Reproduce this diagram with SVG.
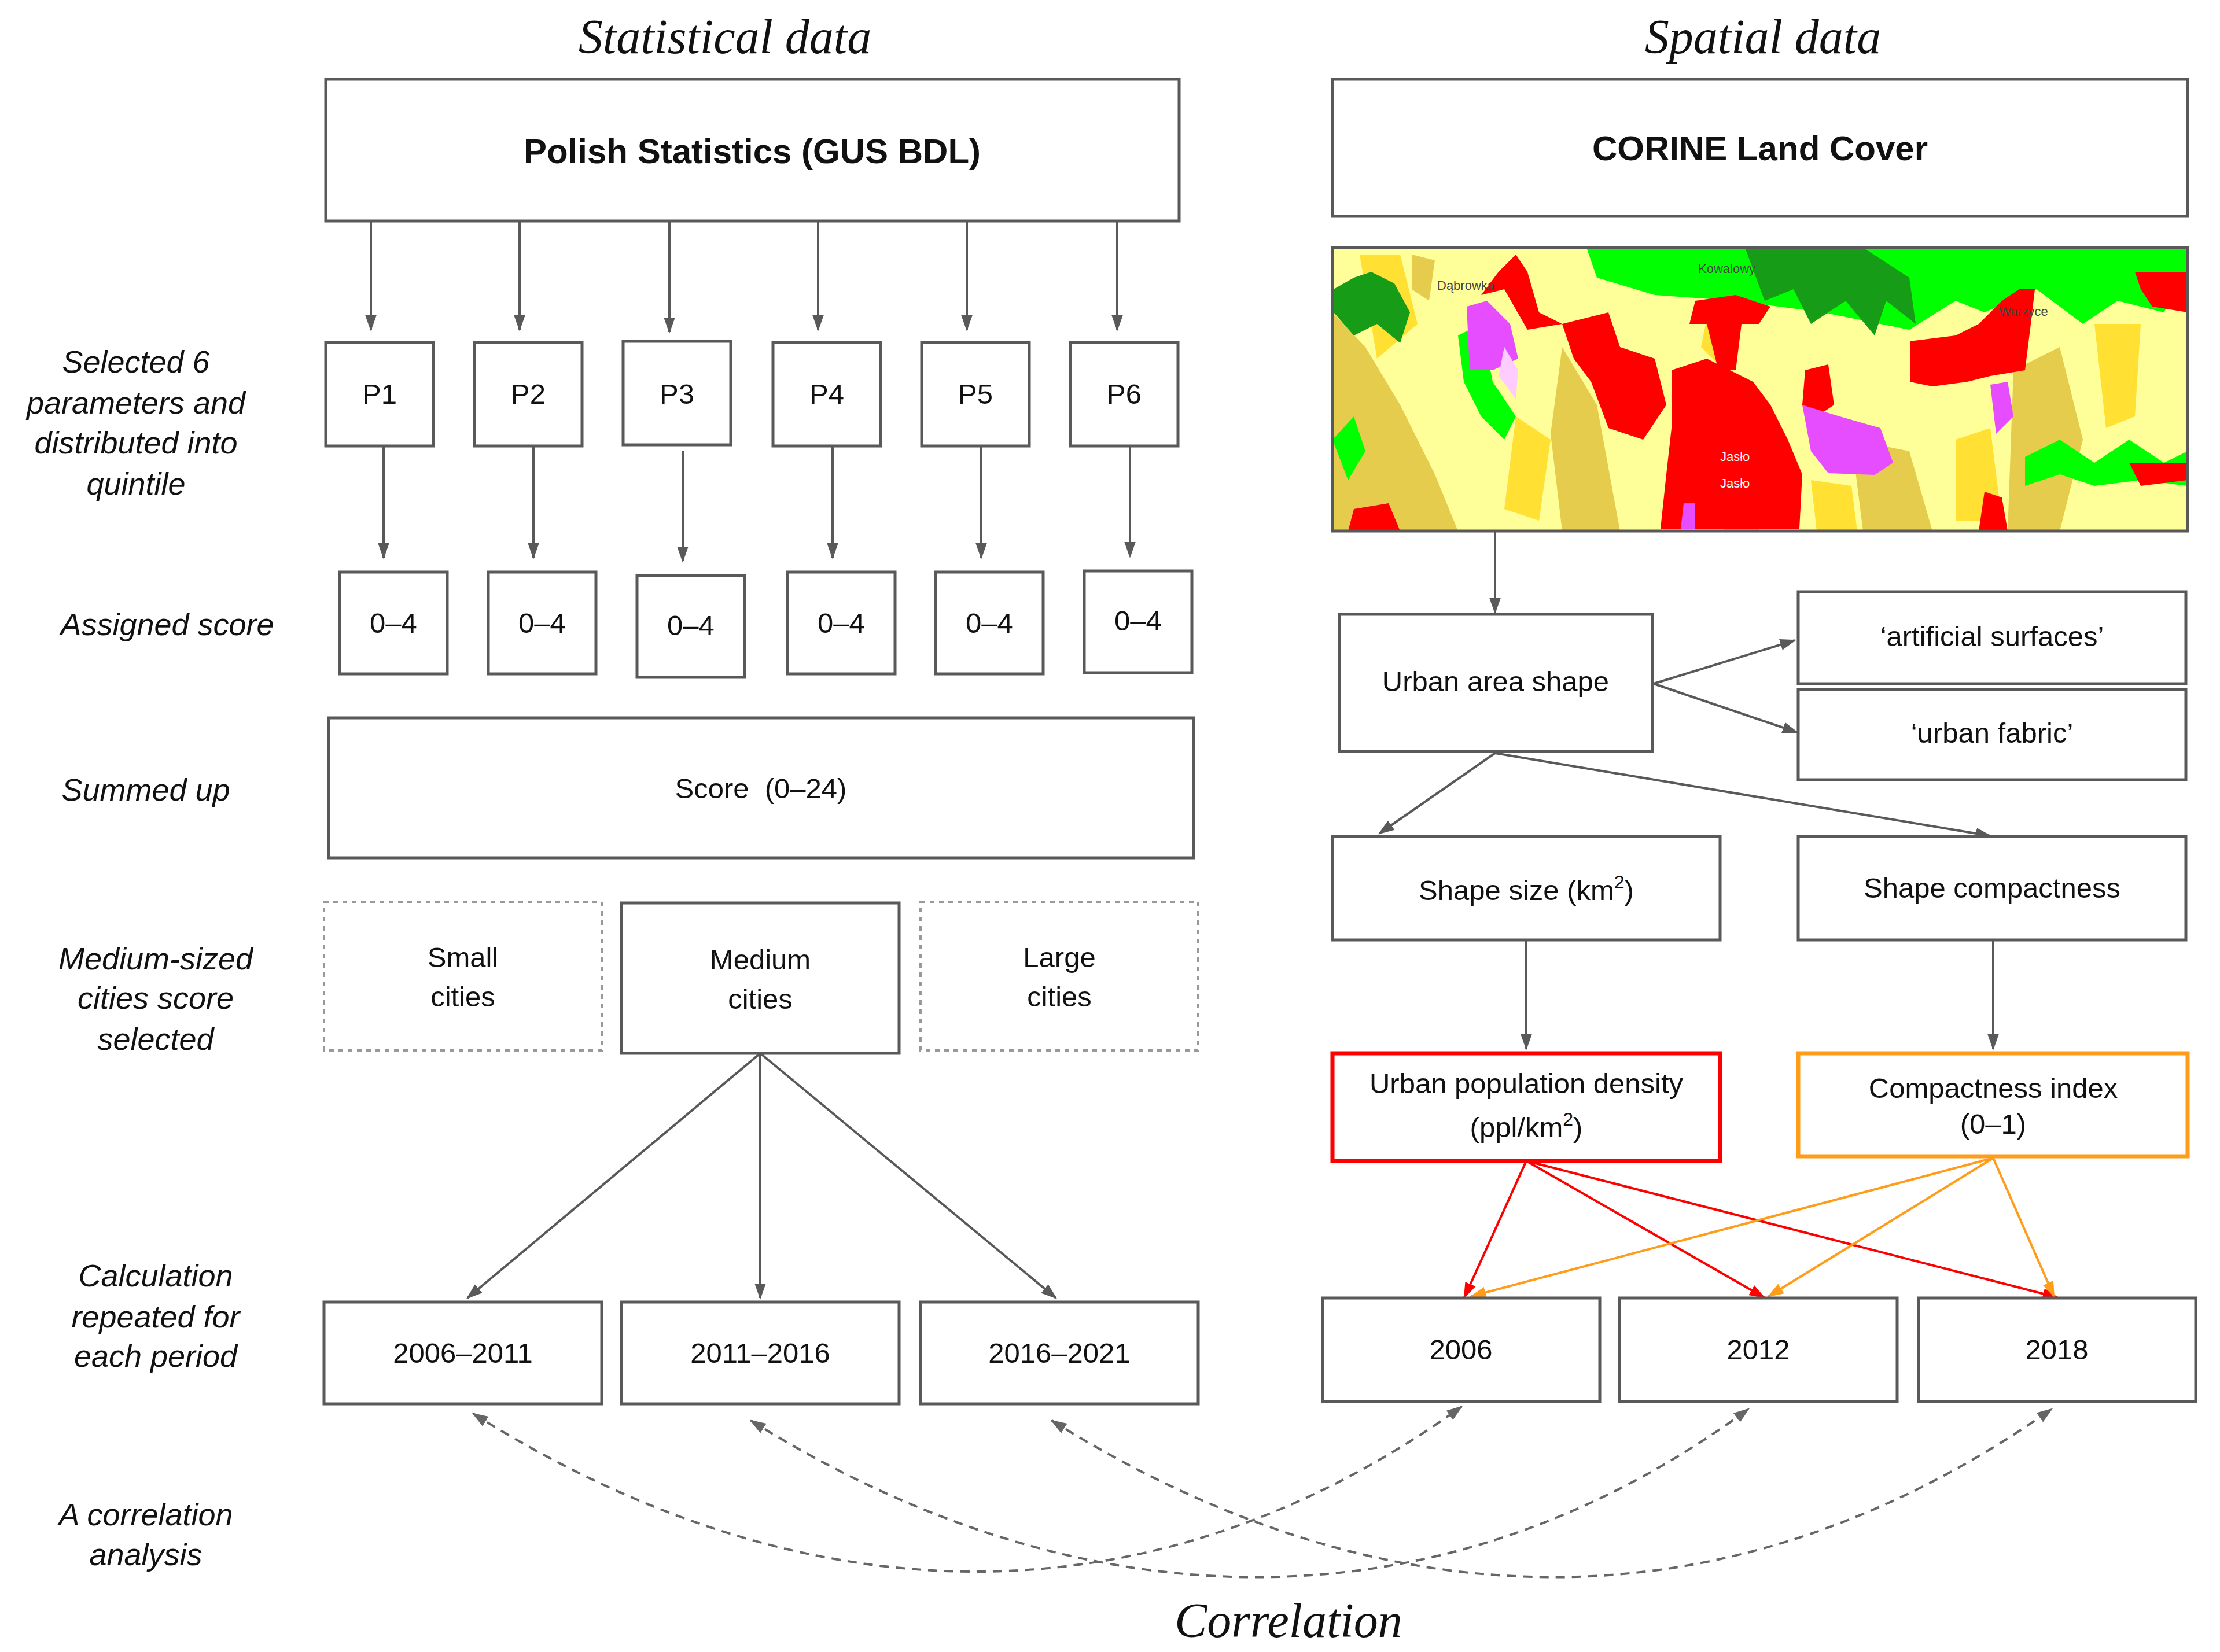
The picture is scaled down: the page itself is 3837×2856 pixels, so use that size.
<svg xmlns="http://www.w3.org/2000/svg" width="3837" height="2856" viewBox="0 0 3837 2856">
<style>
.b{fill:#fff;stroke:#595959;stroke-width:5}
.d{fill:#fff;stroke:#999;stroke-width:4;stroke-dasharray:8 8}
.t{font-family:"Liberation Sans",Arial,sans-serif;font-size:49px;fill:#111;text-anchor:middle}
.l{font-family:"Liberation Sans",Arial,sans-serif;font-size:54px;font-style:italic;fill:#111;text-anchor:middle}
.h{font-family:"Liberation Serif","Times New Roman",serif;font-size:84px;font-style:italic;fill:#111;text-anchor:middle}
.c{stroke:#595959;stroke-width:4;fill:none;marker-end:url(#ag)}
.r{stroke:#f00;stroke-width:4;fill:none;marker-end:url(#ar)}
.o{stroke:#ff9c1a;stroke-width:4;fill:none;marker-end:url(#ao)}
.k{stroke:#666;stroke-width:4;fill:none;stroke-dasharray:16 12;marker-start:url(#as);marker-end:url(#ag2)}
.m{font-family:"Liberation Sans",Arial,sans-serif;font-size:22px}
</style>
<defs>
<marker id="ag" viewBox="0 0 10 10" refX="9" refY="5" markerWidth="28" markerHeight="28" markerUnits="userSpaceOnUse" orient="auto"><path d="M0,1.5L10,5L0,8.5z" fill="#595959"/></marker>
<marker id="ar" viewBox="0 0 10 10" refX="9" refY="5" markerWidth="28" markerHeight="28" markerUnits="userSpaceOnUse" orient="auto"><path d="M0,1.5L10,5L0,8.5z" fill="#f00"/></marker>
<marker id="ao" viewBox="0 0 10 10" refX="9" refY="5" markerWidth="28" markerHeight="28" markerUnits="userSpaceOnUse" orient="auto"><path d="M0,1.5L10,5L0,8.5z" fill="#ff9c1a"/></marker>
<marker id="ag2" viewBox="0 0 10 10" refX="9" refY="5" markerWidth="28" markerHeight="28" markerUnits="userSpaceOnUse" orient="auto"><path d="M0,1.5L10,5L0,8.5z" fill="#666"/></marker>
<marker id="as" viewBox="0 0 10 10" refX="1" refY="5" markerWidth="28" markerHeight="28" markerUnits="userSpaceOnUse" orient="auto"><path d="M10,1.5L0,5L10,8.5z" fill="#666"/></marker>
</defs>
<rect width="3837" height="2856" fill="#fff"/>
<text class="h" x="1253" y="92">Statistical data</text>
<text class="h" x="3047" y="92">Spatial data</text>
<text class="h" x="2227" y="2830">Correlation</text>

<g id="labels">
<text class="l" x="235" y="644">Selected 6</text>
<text class="l" x="235" y="715">parameters and</text>
<text class="l" x="235" y="784">distributed into</text>
<text class="l" x="235" y="855">quintile</text>
<text class="l" x="289" y="1098">Assigned score</text>
<text class="l" x="252" y="1384">Summed up</text>
<text class="l" x="269" y="1676">Medium-sized</text>
<text class="l" x="269" y="1744">cities score</text>
<text class="l" x="269" y="1815">selected</text>
<text class="l" x="269" y="2224">Calculation</text>
<text class="l" x="269" y="2295">repeated for</text>
<text class="l" x="269" y="2363">each period</text>
<text class="l" x="252" y="2637">A correlation</text>
<text class="l" x="252" y="2706">analysis</text>
</g>

<g id="connectors">
<path class="c" d="M641,382V570"/><path class="c" d="M898,382V570"/><path class="c" d="M1157,382V574"/><path class="c" d="M1414,382V570"/><path class="c" d="M1671,382V570"/><path class="c" d="M1931,382V570"/>
<path class="c" d="M663,771V964"/><path class="c" d="M922,771V964"/><path class="c" d="M1180,780V970"/><path class="c" d="M1439,771V964"/><path class="c" d="M1696,771V964"/><path class="c" d="M1953,771V962"/>
<path class="c" d="M1314,1821L808,2244"/><path class="c" d="M1314,1821V2244"/><path class="c" d="M1314,1821L1825,2244"/>
<path class="c" d="M2584,918V1059"/><path class="c" d="M2858,1182L3102,1107"/><path class="c" d="M2858,1182L3106,1266"/><path class="c" d="M2584,1302L2384,1441"/><path class="c" d="M2584,1302L3440,1445"/><path class="c" d="M2638,1625V1813"/><path class="c" d="M3445,1625V1813"/>
<path class="r" d="M2638,2007L2531,2243"/><path class="r" d="M2638,2007L3049,2243"/><path class="r" d="M2638,2007L3556,2243"/>
<path class="o" d="M3445,2002L2543,2241"/><path class="o" d="M3445,2002L3057,2241"/><path class="o" d="M3445,2002L3550,2241"/>
<path class="k" d="M818,2444C1400,2810 2000,2810 2526,2432"/>
<path class="k" d="M1298,2456C1880,2820 2500,2820 3022,2436"/>
<path class="k" d="M1818,2456C2400,2820 3000,2820 3546,2436"/>
</g>

<g id="n-polish"><rect class="b" x="563" y="137" width="1475" height="245"/><text class="t" x="1300" y="282" style="font-weight:bold;font-size:60px">Polish Statistics (GUS BDL)</text></g>
<g id="n-corine"><rect class="b" x="2303" y="137" width="1478" height="237"/><text class="t" x="3042" y="277" style="font-weight:bold;font-size:60px">CORINE Land Cover</text></g>

<g id="n-p1"><rect class="b" x="563" y="592" width="186" height="179"/><text class="t" x="656" y="698">P1</text></g>
<g id="n-p2"><rect class="b" x="820" y="592" width="186" height="179"/><text class="t" x="913" y="698">P2</text></g>
<g id="n-p3"><rect class="b" x="1077" y="590" width="186" height="179"/><text class="t" x="1170" y="698">P3</text></g>
<g id="n-p4"><rect class="b" x="1336" y="592" width="186" height="179"/><text class="t" x="1429" y="698">P4</text></g>
<g id="n-p5"><rect class="b" x="1593" y="592" width="186" height="179"/><text class="t" x="1686" y="698">P5</text></g>
<g id="n-p6"><rect class="b" x="1850" y="592" width="186" height="179"/><text class="t" x="1943" y="698">P6</text></g>

<g id="n-s1"><rect class="b" x="587" y="989" width="186" height="176"/><text class="t" x="680" y="1094">0–4</text></g>
<g id="n-s2"><rect class="b" x="844" y="989" width="186" height="176"/><text class="t" x="937" y="1094">0–4</text></g>
<g id="n-s3"><rect class="b" x="1101" y="995" width="186" height="176"/><text class="t" x="1194" y="1098">0–4</text></g>
<g id="n-s4"><rect class="b" x="1361" y="989" width="186" height="176"/><text class="t" x="1454" y="1094">0–4</text></g>
<g id="n-s5"><rect class="b" x="1617" y="989" width="186" height="176"/><text class="t" x="1710" y="1094">0–4</text></g>
<g id="n-s6"><rect class="b" x="1874" y="987" width="186" height="176"/><text class="t" x="1967" y="1090">0–4</text></g>

<g id="n-sum"><rect class="b" x="568" y="1241" width="1495" height="242"/><text class="t" x="1315" y="1380" xml:space="preserve">Score  (0–24)</text></g>

<g id="n-small"><rect class="d" x="560" y="1559" width="480" height="257"/><text class="t" x="800" y="1672">Small</text><text class="t" x="800" y="1740">cities</text></g>
<g id="n-medium"><rect class="b" x="1074" y="1561" width="480" height="260"/><text class="t" x="1314" y="1676">Medium</text><text class="t" x="1314" y="1744">cities</text></g>
<g id="n-large"><rect class="d" x="1591" y="1559" width="480" height="257"/><text class="t" x="1831" y="1672">Large</text><text class="t" x="1831" y="1740">cities</text></g>

<g id="n-p0611"><rect class="b" x="560" y="2251" width="480" height="176"/><text class="t" x="800" y="2356">2006–2011</text></g>
<g id="n-p1116"><rect class="b" x="1074" y="2251" width="480" height="176"/><text class="t" x="1314" y="2356">2011–2016</text></g>
<g id="n-p1621"><rect class="b" x="1591" y="2251" width="480" height="176"/><text class="t" x="1831" y="2356">2016–2021</text></g>

<g id="n-map">
<rect x="2303" y="428" width="1478" height="490" fill="#ffff99"/>
<path fill="#e6cc4d" d="M2303,540 L2360,600 L2420,700 L2480,820 L2520,918 L2303,918Z M2700,600 L2760,700 L2800,918 L2700,918 L2680,750Z M3000,650 L3060,700 L3040,918 L2980,918Z M3200,760 L3300,780 L3340,918 L3220,918Z M3480,640 L3560,600 L3600,760 L3560,918 L3470,918Z M2440,440 L2480,450 L2470,520 L2440,500Z"/>
<path fill="#ffe033" d="M2350,440 L2420,440 L2450,560 L2380,620Z M2620,720 L2680,760 L2660,900 L2600,880Z M3380,760 L3440,740 L3460,900 L3380,900Z M3620,560 L3700,560 L3690,720 L3640,740Z M2960,500 L3000,560 L2980,640 L2940,600Z M3130,830 L3200,840 L3210,918 L3140,918Z"/>
<path fill="#00ff00" d="M2742,428 L3781,428 L3781,470 L3740,540 L3660,520 L3600,560 L3520,500 L3430,540 L3380,520 L3300,570 L3150,540 L3000,520 L2860,510 L2760,480Z"/>
<path fill="#00ff00" d="M3500,790 L3560,760 L3620,800 L3680,760 L3740,800 L3781,780 L3781,840 L3700,830 L3620,840 L3560,820 L3500,840Z M2520,580 L2560,560 L2580,660 L2620,720 L2600,760 L2560,720 L2530,660Z M2303,760 L2340,720 L2360,780 L2330,830Z"/>
<path fill="#169c16" d="M3016,428 L3220,428 L3300,480 L3311,560 L3260,520 L3240,580 L3190,520 L3130,560 L3100,500 L3050,520Z M2305,500 L2340,480 L2370,470 L2410,490 L2437,540 L2420,593 L2380,560 L2340,580 L2305,540Z"/>
<path fill="#ff0000" d="M2889,640 L2950,620 L2990,640 L3030,660 L3060,700 L3090,760 L3115,820 L3110,914 L2870,914 L2880,820 L2889,740Z"/>
<path fill="#ff0000" d="M2700,560 L2780,540 L2800,600 L2860,620 L2880,700 L2840,760 L2780,740 L2750,660 L2720,620Z M2620,440 L2640,470 L2660,540 L2700,560 L2640,570 L2600,500 L2560,510 L2590,470Z M2930,520 L3000,510 L3060,530 L3040,560 L3010,560 L3000,640 L2970,640 L2950,560 L2920,560Z"/>
<path fill="#ff0000" d="M3301,590 L3380,580 L3420,560 L3460,520 L3490,500 L3517,500 L3510,560 L3500,640 L3440,650 L3400,660 L3340,668 L3301,660Z M3690,470 L3781,470 L3781,540 L3720,530 L3700,500Z M3120,640 L3160,630 L3170,700 L3140,720 L3115,700Z M3680,800 L3781,800 L3781,830 L3700,840Z M2340,880 L2400,870 L2420,918 L2330,918Z M3430,850 L3460,860 L3470,918 L3420,918Z"/>
<path fill="#e64dff" d="M3115,700 L3180,720 L3250,740 L3272,800 L3240,821 L3160,818 L3130,780Z M2535,530 L2570,520 L2610,560 L2624,620 L2580,640 L2540,640Z M3440,665 L3470,660 L3480,720 L3450,750Z M2910,870 L2930,870 L2930,914 L2905,914Z"/>
<path fill="#ffccff" d="M2600,600 L2624,640 L2620,690 L2590,650Z"/>
<text class="m" x="2484" y="501" fill="#444">Dąbrowka</text>
<text class="m" x="2935" y="472" fill="#444">Kowalowy</text>
<text class="m" x="3455" y="546" fill="#444">Warzyce</text>
<text class="m" x="2973" y="797" fill="#fff">Jasło</text>
<text class="m" x="2973" y="843" fill="#fff">Jasło</text>
<rect x="2303" y="428" width="1478" height="490" fill="none" stroke="#595959" stroke-width="5"/>
</g>

<g id="n-urban"><rect class="b" x="2315" y="1062" width="541" height="237"/><text class="t" x="2585" y="1195">Urban area shape</text></g>
<g id="n-artificial"><rect class="b" x="3108" y="1023" width="670" height="159"/><text class="t" x="3443" y="1117">‘artificial surfaces’</text></g>
<g id="n-fabric"><rect class="b" x="3108" y="1192" width="670" height="156"/><text class="t" x="3443" y="1284">‘urban fabric’</text></g>
<g id="n-size"><rect class="b" x="2303" y="1446" width="670" height="179"/><text class="t" x="2638" y="1556">Shape size (km<tspan dy="-20" font-size="32">2</tspan><tspan dy="20">)</tspan></text></g>
<g id="n-compact"><rect class="b" x="3108" y="1446" width="670" height="179"/><text class="t" x="3443" y="1552">Shape compactness</text></g>
<g id="n-density"><rect x="2303" y="1821" width="670" height="186" fill="#fff" stroke="#f00" stroke-width="7"/><text class="t" x="2638" y="1890">Urban population density</text><text class="t" x="2638" y="1966">(ppl/km<tspan dy="-20" font-size="32">2</tspan><tspan dy="20">)</tspan></text></g>
<g id="n-cindex"><rect x="3108" y="1821" width="673" height="178" fill="#fff" stroke="#ff9c1a" stroke-width="7"/><text class="t" x="3445" y="1898">Compactness index</text><text class="t" x="3445" y="1960">(0–1)</text></g>

<g id="n-2006"><rect class="b" x="2286" y="2244" width="479" height="179"/><text class="t" x="2525" y="2350">2006</text></g>
<g id="n-2012"><rect class="b" x="2799" y="2244" width="480" height="179"/><text class="t" x="3039" y="2350">2012</text></g>
<g id="n-2018"><rect class="b" x="3316" y="2244" width="479" height="179"/><text class="t" x="3555" y="2350">2018</text></g>
</svg>
